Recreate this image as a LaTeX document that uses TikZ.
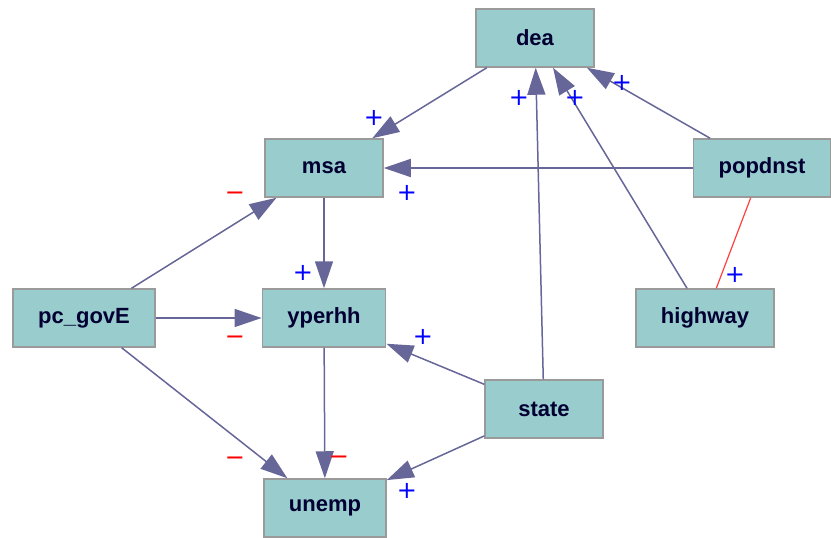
\documentclass[tikz,border=0pt]{standalone}
\usepackage{fontspec}
\setsansfont{Liberation Sans}
\newfontfamily\signfont{DejaVu Sans}
\usetikzlibrary{arrows.meta}

\definecolor{boxfill}{HTML}{99CCCC}
\definecolor{boxline}{HTML}{9A9A9A}
\definecolor{vartext}{HTML}{000033}
\definecolor{edgecol}{HTML}{666699}
\definecolor{poscol}{HTML}{0000FF}
\definecolor{negcol}{HTML}{FF0000}

\begin{document}
\begin{tikzpicture}[x=1pt,y=-1pt,
  var/.style={draw=boxline,line width=1.5pt,fill=boxfill,minimum width=118pt,minimum height=58pt,
    inner xsep=25pt,font=\sffamily\bfseries\fontsize{22}{24}\selectfont,text=vartext},
  link/.style={draw=edgecol,line width=1.5pt,-{Triangle[length=27pt,width=18pt]},fill=edgecol},
  plain/.style={draw=negcol!75!white,line width=1.2pt},
  plussign/.style={text=poscol,font=\signfont\fontsize{24}{24}\selectfont,inner sep=0pt},
  minussign/.style={text=negcol,font=\signfont\fontsize{24}{24}\selectfont,inner sep=0pt}
  ]
  \useasboundingbox (0,0) rectangle (831,538);

  \node[var] (dea) at (535,38) {dea};
  \node[var] (msa) at (324,168) {msa};
  \node[var] (popdnst) at (762,168) {popdnst};
  \node[var] (pcgov) at (84,318) {pc\_govE};
  \node[var] (yperhh) at (324,318) {yperhh};
  \node[var] (highway) at (705,318) {highway};
  \node[var] (state) at (544,409) {state};
  \node[var] (unemp) at (325,508) {unemp};

  \draw[link] (dea) -- (msa);
  \draw[link] (popdnst) -- (msa);
  \draw[link] (state) -- (dea);
  \draw[link] (highway) -- (dea);
  \draw[link] (popdnst) -- (dea);
  \draw[plain] (popdnst) -- (highway);
  \draw[link] (pcgov) -- (msa);
  \draw[link] (msa) -- (yperhh);
  \draw[link] (pcgov) -- (yperhh);
  \draw[link] (state) -- (yperhh);
  \draw[link] (pcgov) -- (unemp);
  \draw[link] (yperhh) -- (unemp);
  \draw[link] (state) -- (unemp);

  % signs
  \node[plussign] (s-dm) at (374,118) {+};
  \node[plussign] (s-pm) at (407,193) {+};
  \node[plussign] (s-sd) at (519,98) {+};
  \node[plussign] (s-hd) at (575,98) {+};
  \node[plussign] (s-pd) at (622,83) {+};
  \node[plussign] (s-ph) at (735,275) {+};
  \node[minussign] (s-gm) at (235,196) {−};
  \node[plussign] (s-my) at (303,273) {+};
  \node[minussign] (s-gy) at (235,340) {−};
  \node[plussign] (s-sy) at (423,337) {+};
  \node[minussign] (s-gu) at (235,461) {−};
  \node[minussign] (s-yu) at (339,460) {−};
  \node[plussign] (s-su) at (407,491) {+};

\end{tikzpicture}
\end{document}
